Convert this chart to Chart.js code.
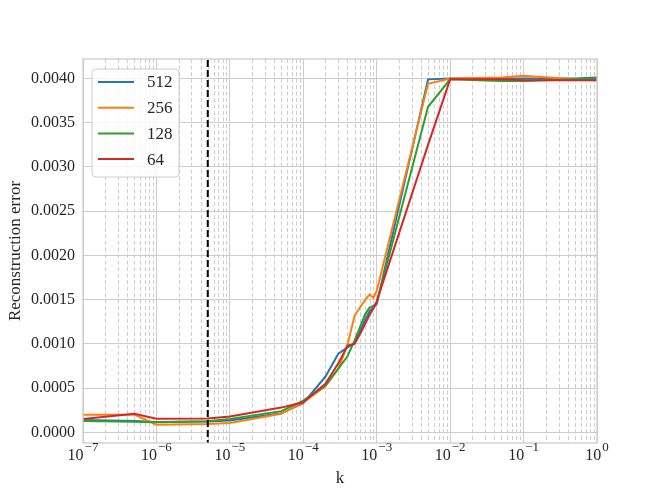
<!DOCTYPE html>
<html>
<head>
<meta charset="utf-8">
<script src="https://cdn.jsdelivr.net/npm/chart.js@4.4.0/dist/chart.umd.min.js"></script>
<style>
  html, body { margin: 0; padding: 0; background: #ffffff; }
  #wrap { width: 664px; height: 498px; }
</style>
</head>
<body>
<div id="wrap"><canvas id="c" width="664" height="498"></canvas></div>
<script>
// ---------------- data ----------------
const kValues = [1e-7, 5e-7, 1e-6, 5e-6, 1e-5, 5e-5, 1e-4, 2e-4, 3e-4, 4e-4, 5e-4, 6e-4, 7e-4, 8e-4, 9e-4, 1e-3, 5e-3, 1e-2, 5e-2, 1e-1, 5e-1, 1];

const err512 = [0.000140, 0.000130, 0.000118, 0.000122, 0.000135, 0.000215, 0.000330, 0.000630, 0.000890, 0.000960, 0.001010, 0.001150, 0.001280, 0.001370, 0.001410, 0.001450, 0.003990, 0.004000, 0.004000, 0.004000, 0.004000, 0.004010];
const err256 = [0.000200, 0.000200, 0.000087, 0.000095, 0.000105, 0.000210, 0.000340, 0.000520, 0.000720, 0.000990, 0.001320, 0.001420, 0.001500, 0.001560, 0.001520, 0.001600, 0.003940, 0.004000, 0.004010, 0.004030, 0.003990, 0.003980];
const err128 = [0.000130, 0.000120, 0.000115, 0.000125, 0.000150, 0.000240, 0.000360, 0.000530, 0.000720, 0.000860, 0.001040, 0.001200, 0.001340, 0.001410, 0.001430, 0.001460, 0.003680, 0.003990, 0.003970, 0.003970, 0.003990, 0.004000];
const err64  = [0.000150, 0.000210, 0.000155, 0.000158, 0.000180, 0.000280, 0.000340, 0.000550, 0.000780, 0.000980, 0.001000, 0.001120, 0.001230, 0.001330, 0.001400, 0.001480, 0.003250, 0.003990, 0.003990, 0.003980, 0.003980, 0.003980];

const seriesLabels = ['512', '256', '128', '64'];
const seriesValues = [err512, err256, err128, err64];
const seriesColors = ['#1f77b4', '#ff7f0e', '#2ca02c', '#d62728'];

const yTickValues = [0, 0.0005, 0.0010, 0.0015, 0.0020, 0.0025, 0.0030, 0.0035, 0.0040];
const xMajorExponents = [-7, -6, -5, -4, -3, -2, -1, 0];
const cutoffK = 5e-6;

const xLabel = 'k';
const yLabel = 'Reconstruction error';

// ---------------- chart ----------------
const FONT = "'Liberation Serif', 'DejaVu Serif', serif";
const TEXT = '#262626';
Chart.defaults.font.family = FONT;
Chart.defaults.font.size = 16;
Chart.defaults.color = TEXT;

const datasets = seriesLabels.map((lab, i) => ({
  label: lab,
  data: kValues.map((k, j) => ({ x: k, y: seriesValues[i][j] })),
  borderColor: seriesColors[i],
  backgroundColor: seriesColors[i],
  borderWidth: 2,
  pointRadius: 0,
  tension: 0,
  fill: false,
  order: 4 - i
}));
datasets.push({
  label: '_cutoff',
  data: [{ x: cutoffK, y: -1 }, { x: cutoffK, y: 1 }],
  borderColor: '#000000',
  borderWidth: 2,
  borderDash: [7, 3],
  pointRadius: 0,
  fill: false,
  order: 0
});

const minorGrid = {
  id: 'minorGrid',
  beforeDatasetsDraw(chart) {
    const { ctx, chartArea: { top, bottom }, scales: { x } } = chart;
    ctx.save();
    ctx.strokeStyle = '#cccccc';
    ctx.lineWidth = 1;
    ctx.setLineDash([4, 2.5]);
    for (let e = xMajorExponents[0]; e < xMajorExponents[xMajorExponents.length - 1]; e++) {
      for (let m = 2; m <= 9; m++) {
        const px = Math.round(x.getPixelForValue(m * Math.pow(10, e))) + 0.5;
        ctx.beginPath();
        ctx.moveTo(px, top);
        ctx.lineTo(px, bottom);
        ctx.stroke();
      }
    }
    ctx.restore();
  }
};

const frame = {
  id: 'frame',
  afterDatasetsDraw(chart) {
    const { ctx, chartArea: { top, bottom, left, right } } = chart;
    ctx.save();
    ctx.strokeStyle = '#cccccc';
    ctx.lineWidth = 1.3;
    ctx.strokeRect(left, top, right - left, bottom - top);
    ctx.restore();
  }
};

const xTickLabels = {
  id: 'xTickLabels',
  afterDraw(chart) {
    const { ctx, scales: { x }, chartArea: { bottom } } = chart;
    ctx.save();
    ctx.fillStyle = TEXT;
    ctx.textBaseline = 'alphabetic';
    ctx.textAlign = 'left';
    xMajorExponents.forEach(e => {
      const px = x.getPixelForValue(Math.pow(10, e));
      const base = '10';
      const exp = e < 0 ? '\u2212' + Math.abs(e) : String(e);
      ctx.font = '16px ' + FONT;
      const bw = ctx.measureText(base).width;
      ctx.font = '13px ' + FONT;
      const ew = ctx.measureText(exp).width;
      const start = px - (bw + ew + 1) / 2;
      ctx.font = '16px ' + FONT;
      ctx.fillText(base, start, bottom + 17);
      ctx.font = '13px ' + FONT;
      ctx.fillText(exp, start + bw + 1, bottom + 8);
    });
    ctx.restore();
  }
};

const innerLegend = {
  id: 'innerLegend',
  afterDraw(chart) {
    const { ctx, chartArea: { left, top } } = chart;
    const bx = left + 9, by = top + 10, bw = 87, bh = 108, r = 4;
    ctx.save();
    ctx.beginPath();
    ctx.moveTo(bx + r, by);
    ctx.lineTo(bx + bw - r, by);
    ctx.quadraticCurveTo(bx + bw, by, bx + bw, by + r);
    ctx.lineTo(bx + bw, by + bh - r);
    ctx.quadraticCurveTo(bx + bw, by + bh, bx + bw - r, by + bh);
    ctx.lineTo(bx + r, by + bh);
    ctx.quadraticCurveTo(bx, by + bh, bx, by + bh - r);
    ctx.lineTo(bx, by + r);
    ctx.quadraticCurveTo(bx, by, bx + r, by);
    ctx.closePath();
    ctx.fillStyle = 'rgba(255,255,255,0.8)';
    ctx.fill();
    ctx.strokeStyle = '#cccccc';
    ctx.lineWidth = 1;
    ctx.stroke();
    ctx.font = '17px ' + FONT;
    ctx.textBaseline = 'middle';
    ctx.textAlign = 'left';
    seriesLabels.forEach((lab, i) => {
      const y = by + 13 + i * 25.7;
      ctx.strokeStyle = seriesColors[i];
      ctx.lineWidth = 2;
      ctx.beginPath();
      ctx.moveTo(bx + 6, y);
      ctx.lineTo(bx + 42, y);
      ctx.stroke();
      ctx.fillStyle = TEXT;
      ctx.fillText(lab, bx + 55, y + 1);
    });
    ctx.restore();
  }
};

new Chart(document.getElementById('c'), {
  type: 'line',
  data: { datasets },
  options: {
    responsive: false,
    animation: false,
    devicePixelRatio: 1,
    layout: { padding: { top: 59, right: 67, left: 0, bottom: 0 } },
    plugins: { legend: { display: false }, tooltip: { enabled: false } },
    scales: {
      x: {
        type: 'logarithmic',
        min: Math.pow(10, xMajorExponents[0]),
        max: Math.pow(10, xMajorExponents[xMajorExponents.length - 1]),
        afterBuildTicks: s => { s.ticks = xMajorExponents.map(e => ({ value: Math.pow(10, e) })); },
        afterFit: s => { s.height = 55; },
        ticks: { display: false },
        grid: { color: '#cccccc', lineWidth: 1, drawTicks: false },
        border: { display: false },
        title: { display: true, text: xLabel, font: { size: 17, family: FONT }, color: TEXT, padding: { top: 0, bottom: 9 } }
      },
      y: {
        type: 'linear',
        min: -0.00012,
        max: 0.00422,
        afterBuildTicks: s => { s.ticks = yTickValues.map(v => ({ value: v })); },
        afterFit: s => { s.width = 83; },
        ticks: { callback: v => Number(v).toFixed(4), padding: 8, font: { size: 16, family: FONT }, color: TEXT },
        grid: { color: '#cccccc', lineWidth: 1, drawTicks: false },
        border: { display: false },
        title: { display: true, text: yLabel, font: { size: 17, family: FONT }, color: TEXT, padding: { top: 5, bottom: 0 } }
      }
    }
  },
  plugins: [minorGrid, frame, xTickLabels, innerLegend]
});
</script>
</body>
</html>
